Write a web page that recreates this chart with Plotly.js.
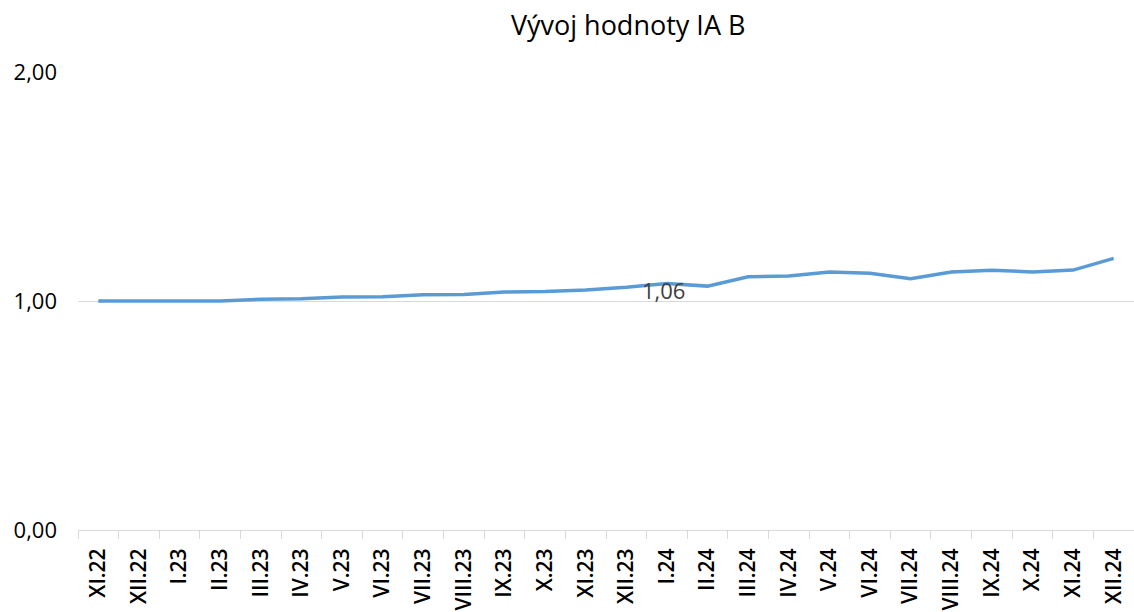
<!DOCTYPE html>
<html>
<head>
<meta charset="utf-8">
<script src="https://cdn.plot.ly/plotly-3.0.1.min.js"></script>
<style>html,body{margin:0;padding:0;background:#fff;}#chart{width:1134px;height:612px;}</style>
</head>
<body>
<div id="chart"></div>
<script>
const categories = ["XI.22","XII.22","I.23","II.23","III.23","IV.23","V.23","VI.23","VII.23","VIII.23","IX.23","X.23","XI.23","XII.23","I.24","II.24","III.24","IV.24","V.24","VI.24","VII.24","VIII.24","IX.24","X.24","XI.24","XII.24"];
const values = [1.000,1.000,1.000,1.000,1.008,1.010,1.017,1.019,1.027,1.028,1.039,1.041,1.048,1.060,1.076,1.065,1.106,1.109,1.127,1.121,1.097,1.127,1.134,1.127,1.135,1.186];
const pointLabels = ["","","","","","","","","","","","","","","1,06","","","","","","","","","","",""];
const yTicks = [0, 1, 2];
const FONT = "Open Sans, Noto Sans, sans-serif";

const annotations = [];
pointLabels.forEach((t, i) => {
  if (t) annotations.push({x: categories[i], y: values[i], xref: 'x', yref: 'y', text: t, showarrow: false,
    yshift: -6, xshift: -3, font: {family: FONT, size: 22, color: '#404040'}});
});

const trace = {
  x: categories, y: values, type: 'scatter', mode: 'lines',
  line: {color: '#5b9bd5', width: 3.5}, hoverinfo: 'x+y'
};

const layout = {
  width: 1134, height: 612,
  margin: {l: 78, r: 0, t: 72, b: 82},
  paper_bgcolor: '#ffffff', plot_bgcolor: '#ffffff',
  separators: ', ',
  showlegend: false,
  title: {text: 'Vývoj hodnoty IA B', x: 0.521, xref: 'paper', xanchor: 'center', y: 0.958, yref: 'container', yanchor: 'middle',
    font: {family: FONT, size: 27, color: '#000000'}},
  xaxis: {type: 'category', range: [-0.5, categories.length - 0.5], tickangle: -90, showgrid: false, showline: true, linecolor: '#d9d9d9', linewidth: 1,
    ticks: 'outside', tickson: 'boundaries', ticklen: 8, tickcolor: '#d9d9d9', tickwidth: 1, ticklabelstandoff: 9,
    tickfont: {family: FONT, size: 21, color: '#000000', weight: 600}, automargin: false, fixedrange: true},
  yaxis: {range: [0, 2], tickvals: yTicks, tickformat: '.2f', showgrid: true, gridcolor: '#d9d9d9', gridwidth: 1,
    zeroline: false, showline: false, ticks: '', ticklen: 0, ticklabelstandoff: 20, tickfont: {family: FONT, size: 22, color: '#000000'},
    automargin: false, fixedrange: true},
  annotations: annotations
};

Plotly.newPlot('chart', [trace], layout, {displayModeBar: false, staticPlot: true});
</script>
</body>
</html>
